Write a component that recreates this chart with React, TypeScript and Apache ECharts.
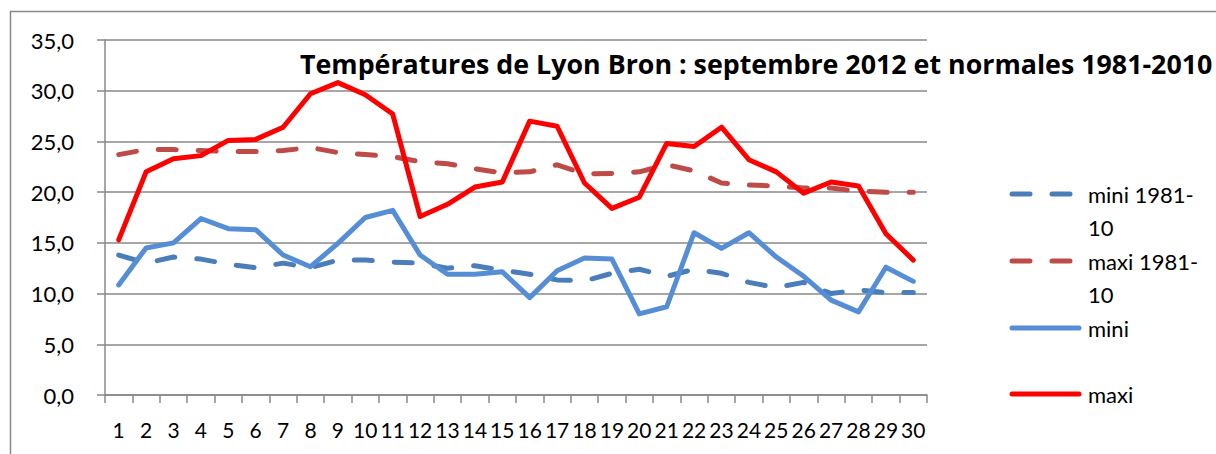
import React, { useEffect, useRef } from 'react';
import * as echarts from 'echarts';

const days = ['1','2','3','4','5','6','7','8','9','10','11','12','13','14','15','16','17','18','19','20','21','22','23','24','25','26','27','28','29','30'];

const miniNormals = [13.8,13.0,13.6,13.4,12.9,12.55,13.0,12.55,13.3,13.3,13.1,13.0,12.5,12.75,12.3,11.9,11.35,11.25,12.0,12.4,11.7,12.4,12.0,11.1,10.6,11.1,10.0,10.35,10.1,10.1];
const maxiNormals = [23.7,24.2,24.2,24.1,24.0,24.0,24.1,24.4,23.9,23.7,23.5,23.0,22.8,22.3,21.9,22.0,22.7,21.8,21.85,22.0,22.7,22.1,20.9,20.7,20.6,20.4,20.4,20.1,20.0,20.0];
const mini = [10.85,14.5,15.0,17.4,16.4,16.3,13.8,12.65,14.95,17.5,18.2,13.8,11.9,11.9,12.15,9.6,12.25,13.5,13.4,8.0,8.7,16.0,14.45,16.0,13.6,11.7,9.35,8.2,12.6,11.2];
const maxi = [15.3,22.0,23.3,23.6,25.1,25.2,26.4,29.7,30.8,29.6,27.7,17.6,18.8,20.5,21.0,27.0,26.5,20.9,18.4,19.5,24.8,24.5,26.4,23.2,22.0,19.9,21.0,20.6,15.9,13.3];

const seriesNames = ['mini 1981-10', 'maxi 1981-10', 'mini', 'maxi'];
const legendLabels = [['mini 1981-', '10'], ['maxi 1981-', '10'], ['mini'], ['maxi']];
const seriesColors = ['#4A7EBB', '#BE4B48', '#558ED5', '#FF0000'];
const seriesDashed = [true, true, false, false];
const titleText = 'Températures de Lyon Bron : septembre 2012 et normales 1981-2010';

const FONT = 'Lato';
const GRAY = '#898989';
const DASH = [18, 22];
const LH = 33;
// vertical centre of each legend line icon
const legendIconY = [194, 261, 328, 394];

export default function App() {
  const ref = useRef<HTMLDivElement>(null);
  useEffect(() => {
    document.body.style.margin = '0';
    const chart = echarts.init(ref.current!, undefined, { renderer: 'svg' });
    const lineStyleOf = (i: number) => ({
      color: seriesColors[i],
      width: 5,
      type: seriesDashed[i] ? DASH : 'solid',
      cap: 'round',
      join: 'round',
    });
    const legends = seriesNames.map((name, i) => {
      const lines = legendLabels[i];
      const twoLines = lines.length > 1;
      // a blank first line keeps the icon level with the first text line
      const label = twoLines ? ' \n' + lines.join('\n') : lines[0];
      return {
        orient: 'vertical',
        left: 1009.5,
        top: legendIconY[i] - (twoLines ? LH * 1.5 : LH / 2),
        padding: 0,
        itemWidth: 67,
        itemHeight: 14,
        itemGap: 0,
        data: [name],
        formatter: () => label,
        itemStyle: { color: 'rgba(0,0,0,0)', borderColor: 'rgba(0,0,0,0)', borderWidth: 0 },
        lineStyle: lineStyleOf(i),
        textStyle: {
          fontFamily: FONT,
          fontSize: 22,
          lineHeight: LH,
          color: '#000',
          padding: [0, 0, 0, 4],
        },
      };
    });
    chart.setOption({
      animation: false,
      backgroundColor: '#ffffff',
      title: {
        text: titleText,
        left: 300,
        top: 50,
        padding: 0,
        textStyle: { fontFamily: 'Open Sans', fontWeight: 'bold', fontSize: 26.8, color: '#000' },
      },
      legend: legends,
      grid: { left: 105, right: 289, top: 40, bottom: 59 },
      xAxis: {
        type: 'category',
        data: days,
        boundaryGap: true,
        axisLine: { show: true, lineStyle: { color: GRAY, width: 1.5 } },
        axisTick: { show: true, length: 8, alignWithLabel: false, interval: 0, lineStyle: { color: GRAY, width: 1.5 } },
        axisLabel: { interval: 0, margin: 24, fontFamily: FONT, fontSize: 21, color: '#000' },
        splitLine: { show: false },
      },
      yAxis: {
        type: 'value',
        min: 0,
        max: 35,
        interval: 5,
        axisLine: { show: true, lineStyle: { color: GRAY, width: 1.5 } },
        axisTick: { show: true, length: 8, lineStyle: { color: GRAY, width: 1.5 } },
        axisLabel: {
          margin: 31,
          fontFamily: FONT,
          fontSize: 22,
          color: '#000',
          formatter: (v: number) => v.toFixed(1).replace('.', ','),
        },
        splitLine: { show: true, lineStyle: { color: GRAY, width: 1.5 } },
      },
      graphic: [
        {
          type: 'rect',
          shape: { x: 10.5, y: 11.5, width: 1300, height: 600 },
          style: { fill: 'none', stroke: GRAY, lineWidth: 1.5 },
          silent: true,
          z: -10,
        },
      ],
      series: [
        { name: seriesNames[0], data: miniNormals },
        { name: seriesNames[1], data: maxiNormals },
        { name: seriesNames[2], data: mini },
        { name: seriesNames[3], data: maxi },
      ].map((s, i) => ({
        ...s,
        type: 'line',
        symbol: 'none',
        showSymbol: false,
        lineStyle: lineStyleOf(i),
        itemStyle: { color: seriesColors[i] },
        emphasis: { disabled: true },
      })),
    });
    return () => chart.dispose();
  }, []);
  return <div ref={ref} style={{ width: 1216, height: 454 }} />;
}
